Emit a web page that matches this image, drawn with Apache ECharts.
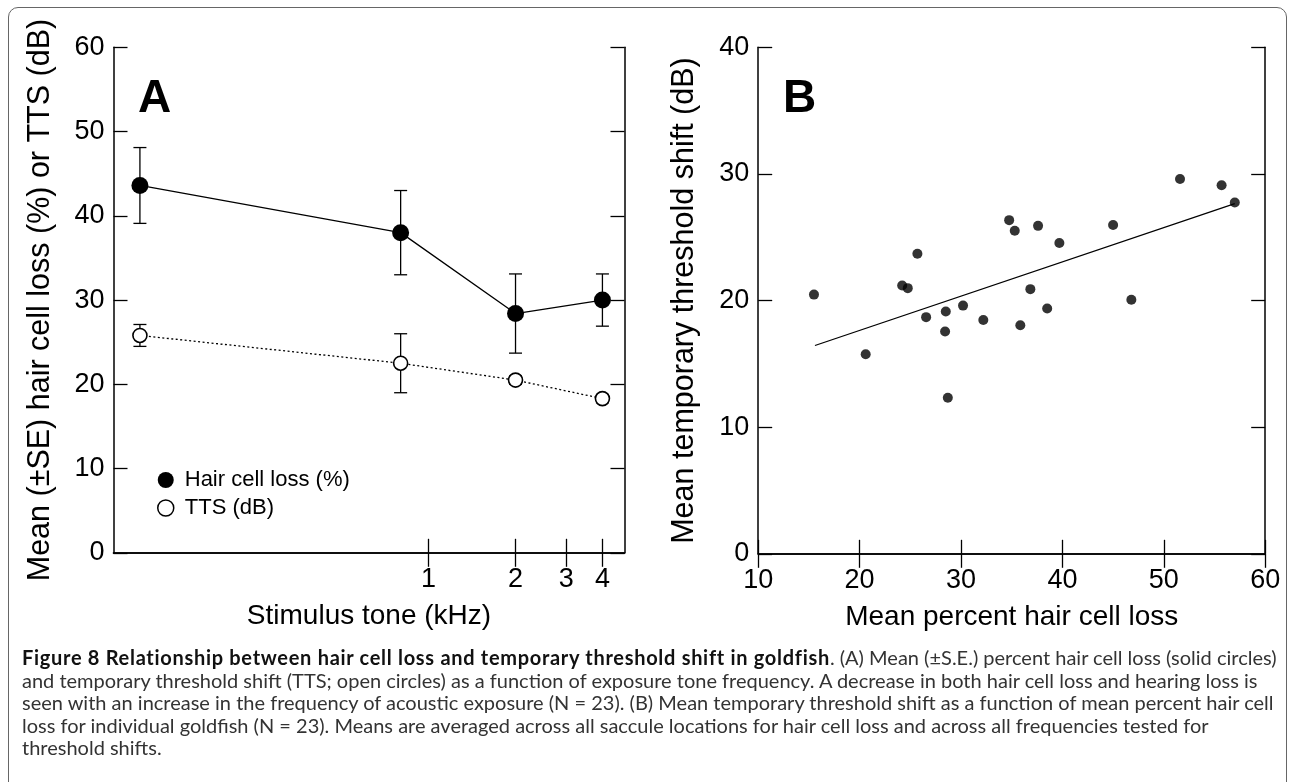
<!DOCTYPE html>
<html>
<head>
<meta charset="utf-8">
<script src="https://cdn.jsdelivr.net/npm/echarts@6/dist/echarts.min.js"></script>
<style>
    html, body { margin: 0; padding: 0; background: #fff; }
    #wrap { position: relative; width: 1290px; height: 782px; overflow: hidden; }
    #frame {
        position: absolute; left: 8px; top: 7px; width: 1279px; height: 820px;
        border: 1.5px solid #666; border-radius: 10px; box-sizing: border-box;
    }
    #chart { position: absolute; left: 0; top: 0; width: 1290px; height: 782px; }
    #caption {
        position: absolute; left: 22px; top: 646px;
        font-family: Lato, 'Noto Sans', sans-serif; font-size: 20px; line-height: 22.5px;
        color: #333; white-space: nowrap;
    }
    #caption b { color: #111; letter-spacing: 0.7px; }
</style>
</head>
<body>
<div id="wrap">
    <div id="frame"></div>
    <div id="chart"></div>
    <div id="caption">
        <b>Figure 8 Relationship between hair cell loss and temporary threshold shift in goldfish</b>. (A) Mean (±S.E.) percent hair cell loss (solid circles)<br>
        and temporary threshold shift (TTS; open circles) as a function of exposure tone frequency. A decrease in both hair cell loss and hearing loss is<br>
        seen with an increase in the frequency of acoustic exposure (N = 23). (B) Mean temporary threshold shift as a function of mean percent hair cell<br>
        loss for individual goldfish (N = 23). Means are averaged across all saccule locations for hair cell loss and across all frequencies tested for<br>
        threshold shifts.
    </div>
</div>
<script>
    // panel A - means by stimulus tone
    const freqA = [0.1, 0.8, 2, 4]
    const hairLossMean = [43.6, 38.0, 28.4, 30.0]
    const hairLossSE = [4.5, 5.0, 4.7, 3.1]
    const ttsMean = [25.8, 22.5, 20.5, 18.3]
    const ttsSE = [1.3, 3.5, 0.5, 0.5]
    const freqTicks = [1, 2, 3, 4]

    // panel B - individual fish
    const hairLossB = [15.5, 20.6, 24.2, 24.75, 25.7, 26.56, 28.43, 28.5, 28.7, 30.2, 32.2, 34.75,
        35.3, 35.85, 36.84, 37.6, 38.5, 39.7, 45.0, 46.8, 51.6, 55.7, 57.0]
    const ttsB = [20.47, 15.76, 21.19, 20.98, 23.69, 18.69, 17.55, 19.13, 12.33, 19.6, 18.47, 26.35,
        25.51, 18.05, 20.9, 25.9, 19.37, 24.54, 25.96, 20.06, 29.6, 29.1, 27.75]
    const fitLineX = [15.6, 57]
    const fitLineY = [16.45, 27.65]

    const FONT = 'Liberation Sans'
    const tickStyle = { inside: true, length: 14, lineStyle: { color: '#000', width: 1.3 } }
    const lineStyle = { lineStyle: { color: '#000', width: 1.5 } }
    const labelFont = { fontFamily: FONT, fontSize: 27, color: '#000' }
    const nameFont = { fontFamily: FONT, fontSize: 28, color: '#000' }
    const yNameFont = { fontFamily: FONT, fontSize: 30.5, color: '#000' }

    function errorBar(params, api) {
        let x = api.value(0)
        let top = api.coord([x, api.value(2)])
        let bot = api.coord([x, api.value(1)])
        let w = 6.5
        let style = { stroke: '#000', lineWidth: 1.3 }
        return {
            type: 'group',
            children: [
                { type: 'line', shape: { x1: top[0], y1: top[1], x2: bot[0], y2: bot[1] }, style: style },
                { type: 'line', shape: { x1: top[0] - w, y1: top[1], x2: top[0] + w, y2: top[1] }, style: style },
                { type: 'line', shape: { x1: bot[0] - w, y1: bot[1], x2: bot[0] + w, y2: bot[1] }, style: style }
            ]
        }
    }

    let logAxis = {
        type: 'log',
        logBase: 10,
        min: 0.081,
        max: 4.77,
        gridIndex: 0,
        axisLine: lineStyle,
        axisTick: Object.assign({ customValues: freqTicks }, tickStyle),
        splitLine: { show: false }
    }

    let myChart = echarts.init(document.getElementById('chart'))
    let option = {
        animation: false,
        grid: [
            { left: 113.5, top: 47.3, width: 511, height: 505.5 },
            { left: 758.2, top: 47.3, width: 507, height: 506.5 }
        ],
        legend: {
            left: 152,
            top: 464,
            orient: 'vertical',
            itemWidth: 16,
            itemHeight: 16,
            itemGap: 6,
            icon: 'circle',
            selectedMode: false,
            textStyle: { fontFamily: FONT, fontSize: 22, color: '#000', lineHeight: 22, padding: [0, 0, 0, 6] },
            data: [
                { name: 'Hair cell loss (%)', itemStyle: { color: '#000' } },
                { name: 'TTS (dB)', itemStyle: { color: '#fff', borderColor: '#000', borderWidth: 1.5 } }
            ]
        },
        xAxis: [
            Object.assign({}, logAxis, {
                position: 'bottom',
                name: 'Stimulus tone (kHz)',
                nameLocation: 'middle',
                nameGap: 49,
                nameTextStyle: nameFont,
                axisLabel: Object.assign({ customValues: freqTicks, margin: 13, formatter: v => String(v) }, labelFont)
            }),
            Object.assign({}, logAxis, { position: 'top', axisLabel: { show: false } }),
            {
                type: 'value', gridIndex: 1, position: 'bottom', min: 10, max: 60, interval: 10,
                name: 'Mean percent hair cell loss',
                nameLocation: 'middle',
                nameGap: 49,
                nameTextStyle: nameFont,
                axisLine: lineStyle, axisTick: tickStyle, splitLine: { show: false },
                axisLabel: Object.assign({ margin: 13 }, labelFont)
            },
            {
                type: 'value', gridIndex: 1, position: 'top', min: 10, max: 60, interval: 10,
                axisLine: lineStyle, axisTick: tickStyle, splitLine: { show: false },
                axisLabel: { show: false }
            }
        ],
        yAxis: [
            {
                type: 'value', gridIndex: 0, position: 'left', min: 0, max: 60, interval: 10,
                name: 'Mean (±SE) hair cell loss (%) or TTS (dB)',
                nameLocation: 'middle',
                nameGap: 57,
                nameTextStyle: yNameFont,
                axisLine: lineStyle, axisTick: tickStyle, splitLine: { show: false },
                axisLabel: Object.assign({ margin: 9 }, labelFont)
            },
            {
                type: 'value', gridIndex: 0, position: 'right', min: 0, max: 60, interval: 10,
                axisLine: lineStyle, axisTick: tickStyle, splitLine: { show: false },
                axisLabel: { show: false }
            },
            {
                type: 'value', gridIndex: 1, position: 'left', min: 0, max: 40, interval: 10,
                name: 'Mean temporary threshold shift (dB)',
                nameLocation: 'middle',
                nameGap: 58,
                nameTextStyle: yNameFont,
                axisLine: lineStyle, axisTick: tickStyle, splitLine: { show: false },
                axisLabel: Object.assign({ margin: 9 }, labelFont)
            },
            {
                type: 'value', gridIndex: 1, position: 'right', min: 0, max: 40, interval: 10,
                axisLine: lineStyle, axisTick: tickStyle, splitLine: { show: false },
                axisLabel: { show: false }
            }
        ],
        graphic: [
            { type: 'text', left: 138, top: 76, style: { text: 'A', font: 'bold 46px "Liberation Sans"', fill: '#000' } },
            { type: 'text', left: 783, top: 76, style: { text: 'B', font: 'bold 46px "Liberation Sans"', fill: '#000' } }
        ],
        series: [
            {
                type: 'custom', name: 'hairErr', xAxisIndex: 0, yAxisIndex: 0, z: 1,
                renderItem: errorBar,
                data: freqA.map((f, i) => [f, hairLossMean[i] - hairLossSE[i], hairLossMean[i] + hairLossSE[i]])
            },
            {
                type: 'custom', name: 'ttsErr', xAxisIndex: 0, yAxisIndex: 0, z: 1,
                renderItem: errorBar,
                data: freqA.map((f, i) => [f, ttsMean[i] - ttsSE[i], ttsMean[i] + ttsSE[i]])
            },
            {
                type: 'line', name: 'Hair cell loss (%)', xAxisIndex: 0, yAxisIndex: 0, z: 3,
                symbol: 'circle', symbolSize: 17,
                itemStyle: { color: '#000' },
                lineStyle: { color: '#000', width: 1.3 },
                data: freqA.map((f, i) => [f, hairLossMean[i]])
            },
            {
                type: 'line', name: 'TTS (dB)', xAxisIndex: 0, yAxisIndex: 0, z: 3,
                symbol: 'circle', symbolSize: 14, showAllSymbol: true,
                itemStyle: { color: '#fff', borderColor: '#000', borderWidth: 1.6 },
                lineStyle: { color: '#000', width: 1.3, type: [2, 2.5] },
                data: freqA.map((f, i) => [f, ttsMean[i]])
            },
            {
                type: 'scatter', name: 'fish', xAxisIndex: 2, yAxisIndex: 2, z: 3,
                symbol: 'circle', symbolSize: 10,
                itemStyle: { color: '#000' },
                data: hairLossB.map((x, i) => [x, ttsB[i]])
            },
            {
                type: 'line', name: 'fit', xAxisIndex: 2, yAxisIndex: 2, z: 2,
                symbol: 'none',
                lineStyle: { color: '#000', width: 1.3 },
                data: fitLineX.map((x, i) => [x, fitLineY[i]])
            }
        ]
    }
    myChart.setOption(option)
</script>
</body>
</html>
